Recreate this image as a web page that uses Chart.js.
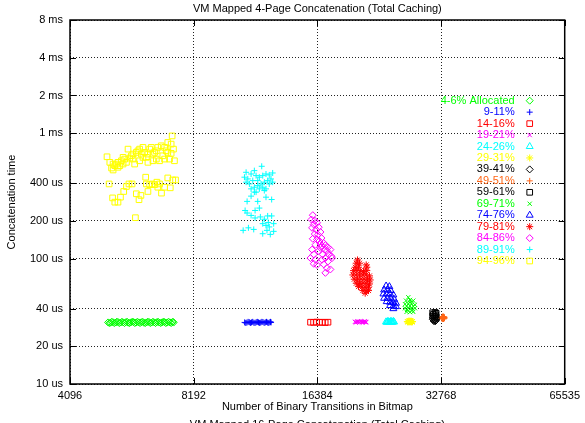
<!DOCTYPE html>
<html>
<head>
<meta charset="utf-8">
<title>VM Mapped 4-Page Concatenation</title>
<script src="https://cdn.jsdelivr.net/npm/chart.js@4.4.1/dist/chart.umd.min.js"></script>
<style>
  body { margin: 0; background: #fff; }
  #wrap { width: 585px; height: 423px; }
</style>
</head>
<body>
<div id="wrap"><canvas id="concat" width="585" height="423"></canvas></div>
<script>
const chartTitle = 'VM Mapped 4-Page Concatenation (Total Caching)';
const nextTitle = 'VM Mapped 16-Page Concatenation (Total Caching)';
const xTitle = 'Number of Binary Transitions in Bitmap';
const yTitle = 'Concatenation time';

const xTicks = [4096, 8192, 16384, 32768, 65535];
const yTicks = [10, 20, 40, 100, 200, 400, 1000, 2000, 4000, 8000];
const yTickLabels = ['10 us', '20 us', '40 us', '100 us', '200 us', '400 us', '1 ms', '2 ms', '4 ms', '8 ms'];

const seriesLabels = ['4-6% Allocated', '9-11%', '14-16%', '19-21%', '24-26%', '29-31%', '39-41%',
  '49-51%', '59-61%', '69-71%', '74-76%', '79-81%', '84-86%', '89-91%', '94-96%'];

// [transitions, time in us]
const alloc05 = [[5070,31.0],[5140,30.8],[5210,31.1],[5290,30.9],[5360,31.2],[5440,30.9],[5520,31.0],[5600,31.1],
  [5680,30.8],[5760,31.0],[5850,31.2],[5930,30.9],[6020,31.0],[6110,31.1],[6200,30.8],[6290,31.0],[6380,31.2],
  [6470,30.9],[6570,31.0],[6660,31.1],[6760,30.9],[6860,31.0],[6960,31.2],[7060,30.9],[7170,31.0],[7270,31.1],[7320,30.9],
  [5105,30.6],[5175,31.4],[5250,30.6],[5325,31.4],[5400,30.6],[5480,31.4],[5560,30.6],[5640,31.4],[5720,30.6],
  [5805,31.4],[5890,30.6],[5975,31.4],[6065,30.6],[6155,31.4],[6245,30.6],[6335,31.4],[6425,30.6],[6520,31.4],
  [6615,30.6],[6710,31.4],[6810,30.6],[6910,31.4],[7010,30.6],[7115,31.4],[7220,30.6],[7295,31.4]];
const alloc10 = [[10900,31.0],[11040,30.9],[11190,31.1],[11330,31.0],[11480,30.8],[11630,31.1],[11780,31.0],
  [11930,30.9],[12080,31.2],[12240,31.0],[12400,30.9],[12560,31.1],[12640,31.0],
  [10970,30.7],[11115,31.3],[11260,30.7],[11405,31.3],[11555,30.7],[11705,31.3],[11855,30.7],[12005,31.3],
  [12160,30.7],[12320,31.3],[12480,30.7],[12600,31.3]];
const alloc15 = [[15770,31.1],[16040,31.0],[16310,31.2],[16580,31.0],[16850,31.1],[17120,30.9],[17390,31.1]];
const alloc20 = [[20220,31.3],[20420,31.2],[20620,31.4],[20830,31.3],[21040,31.2],[21250,31.4],[21460,31.3],[21540,31.2],
  [20320,31.0],[20520,31.6],[20725,31.0],[20935,31.6],[21145,31.0],[21355,31.6],[21500,31.0]];
const alloc25 = [[24070,31.3],[24260,31.4],[24450,31.2],[24640,31.3],[24830,31.4],[25020,31.3],[25190,31.2],
  [24165,31.0],[24355,31.6],[24545,31.0],[24735,31.6],[24925,31.0],[25105,31.6]];
const alloc30 = [[27130,31.5],[27290,31.4],[27450,31.6],[27610,31.5],[27770,31.4],[27930,31.5],
  [27210,31.2],[27370,31.8],[27530,31.2],[27690,31.8],[27850,31.2]];
const alloc40 = [[31350,33.8],[31700,33.6],[31950,33.1],[31300,32.8],[31550,32.4],[31850,32.1],[31450,31.8],[31700,31.6]];
const alloc50 = [[33150,33.9],[32980,33.6],[33320,33.7],[33150,33.3],[33150,34.3]];
const alloc60 = [[31270,37.0],[31700,37.2],[31880,36.6],[31400,35.9],[31800,35.6],[31270,34.8],[31600,34.6],[31900,34.2]];
const alloc70 = [[27275,49.2],[26927,46.2],[27535,46.8],[28046,46.2],[26778,43.3],[27275,43.6],[27782,43.6],
  [28313,42.8],[26778,40.2],[27275,40.2],[27782,40.2],[28313,40.2],[27017,37.6],[27535,37.4],[28046,37.6],
  [27030,41.8],[27530,42.0],[28050,41.6],[27530,44.8],[27100,39.0],[27900,38.8]];
const alloc75 = [[24085,60.5],[24532,59.8],[23818,56.3],[24260,56.3],[24709,55.6],[23726,52.3],[24165,52.3],
  [24627,52.3],[25084,51.3],[23818,48.3],[24260,48.3],[24709,48.3],[25184,47.4],[24165,45.4],[24627,44.9],
  [25084,44.6],[25466,44.1],[24627,42.2],[25084,41.9],[25466,41.4],[25084,39.9]];
const alloc80 = [[20523,97.6],[20375,91.9],[20752,91.9],[20261,85.4],[20637,85.4],[21545,89.1],[21617,85.4],
  [20071,80.2],[20443,80.2],[20834,80.2],[21219,78.8],[21617,80.2],[19992,74.1],[20375,74.1],[20752,74.1],
  [21137,74.1],[21545,74.1],[21945,72.8],[20149,68.5],[20523,68.5],[20903,68.5],[21302,68.5],[21701,68.5],
  [22030,67.6],[20375,63.6],[20752,63.6],[21137,63.6],[21545,63.6],[21945,62.8],[20637,59.8],[21019,59.1],
  [21422,59.1],[21822,59.1],[21137,55.6],[21545,55.0],[21822,55.6],[21422,53.0]];
const alloc85 = [[15970,222],[15853,205],[16148,201],[16057,187],[16356,193],[15907,176],[16266,170],[16512,178],
  [16148,157],[16448,155],[16670,163],[15970,144],[16356,142],[16577,138],[16763,146],[16979,133],[16820,126],
  [17140,128],[17392,123],[17626,118],[17295,115],[17073,118],[16670,122],[16512,115],[16885,108],[17459,108],
  [17726,104.5],[17140,101],[16820,98],[15907,118],[16057,108],[15765,101],[16212,98],[16057,91],[16356,89],
  [17392,95],[16979,90],[17295,84],[17626,82],[17140,77],[17785,101],[16670,131],[16212,129]];
const alloc90 = [[11996,545],[10990,488],[11510,503],[11301,473],[10888,446],[11095,432],[11621,459],[11837,446],
  [12063,459],[12286,473],[12514,465],[12755,482],[12634,432],[12402,419],[12171,407],[11950,394],[11731,382],
  [11510,371],[11301,360],[11195,394],[10990,407],[11409,419],[11731,419],[12063,371],[12286,360],[12514,394],
  [12755,407],[12171,349],[11621,339],[11301,315],[11052,286],[11731,286],[12286,309],[12683,296],[11837,253],
  [11557,242],[10929,242],[11052,231],[11301,221],[11557,211],[11903,215],[12171,206],[12402,219],[12683,219],
  [12063,190],[12286,184],[12514,179],[12826,165],[12354,168],[12063,158],[12585,156],[11470,171],[11133,176],
  [10810,168],[12826,190],[12443,194],[11837,360],[11510,339]];
const alloc95 = [[5040,649],[5120,586],[5170,528],[5215,509],[5265,551],[5315,568],[5360,586],[5415,551],[5465,603],
  [5515,568],[5565,622],[5620,586],[5670,747],[5725,634],[5780,661],[5830,682],[5885,568],[5940,703],[5995,724],
  [6050,747],[6110,682],[6165,642],[6225,703],[6285,642],[6340,586],[6400,747],[6460,771],[6520,682],[6580,703],
  [6645,622],[6700,771],[6765,603],[6830,794],[6890,661],[6960,771],[7025,724],[7085,844],[7155,622],[7220,819],
  [7260,952],[7315,747],[7355,603],[7220,691],[6960,622],[6520,603],[6050,603],[5515,642],[5360,535],[5215,568],
  [5830,622],[6165,771],[6340,682],[6645,724],[7085,703],
  [5100,394],[5200,305],[5265,282],[5360,282],[5435,309],[5535,343],[5620,376],[5700,394],[5800,394],[5940,329],
  [6030,295],[6095,319],[6260,446],[6340,343],[6400,389],[6495,394],[6580,389],[6665,407],[6765,394],[6840,333],
  [6960,371],[7085,440],[7185,367],[7285,424],[7400,424],[6285,394],[6700,371],[5910,212]];

const seriesData = [alloc05, alloc10, alloc15, alloc20, alloc25, alloc30, alloc40, alloc50,
  alloc60, alloc70, alloc75, alloc80, alloc85, alloc90, alloc95];

const seriesColors = ['#00ff00', '#0000ff', '#ff0000', '#ff00ff', '#00ffff', '#ffff00', '#000000',
  '#ff6414', '#000000', '#00ff00', '#0000ff', '#ff0000', '#ff00ff', '#00ffff', '#ffff00'];
const markerCycle = ['rectRot', 'cross', 'rect', 'crossRot', 'triangle', 'star'];
const markerSize = {rectRot: 3.5, cross: 3, rect: 4, crossRot: 3, triangle: 4, star: 3.5};

const FONT_FAMILY = '"Liberation Sans", Arial, Helvetica, sans-serif';

function markerFor(i) {
    return markerCycle[i % markerCycle.length];
}

const gnuplotFrame = {
    id: 'gnuplotFrame',
    afterDraw(chart) {
        const {ctx, chartArea: a, scales} = chart;
        ctx.save();

        // inward tick marks on all four sides
        ctx.strokeStyle = '#000';
        ctx.lineWidth = 1;
        ctx.beginPath();
        xTicks.forEach(v => {
            let x = Math.round(scales.x.getPixelForValue(v)) + 0.5;
            ctx.moveTo(x, a.bottom); ctx.lineTo(x, a.bottom - 6);
            ctx.moveTo(x, a.top); ctx.lineTo(x, a.top + 6);
        });
        yTicks.forEach(v => {
            let y = Math.round(scales.y.getPixelForValue(v)) + 0.5;
            ctx.moveTo(a.left, y); ctx.lineTo(a.left + 6, y);
            ctx.moveTo(a.right, y); ctx.lineTo(a.right - 6, y);
        });
        ctx.stroke();

        ctx.lineWidth = 1.5;
        ctx.strokeRect(a.left, a.top, a.right - a.left, a.bottom - a.top);

        // titles
        let cx = (a.left + a.right) / 2;
        ctx.fillStyle = '#000';
        ctx.font = '11px ' + FONT_FAMILY;
        ctx.textAlign = 'center';
        ctx.textBaseline = 'middle';
        ctx.fillText(chartTitle, cx, a.top - 11);
        ctx.fillText(xTitle, cx, a.bottom + 23);
        ctx.textBaseline = 'top';
        ctx.fillText(nextTitle, cx, a.bottom + 35);

        ctx.save();
        ctx.translate(12, (a.top + a.bottom) / 2);
        ctx.rotate(-Math.PI / 2);
        ctx.textBaseline = 'middle';
        ctx.fillText(yTitle, 0, 0);
        ctx.restore();

        // key, gnuplot style: text right aligned, marker after it
        ctx.textAlign = 'right';
        ctx.textBaseline = 'middle';
        seriesLabels.forEach((label, i) => {
            let y = a.top + 80.7 + i * 11.45;
            ctx.fillStyle = seriesColors[i];
            ctx.fillText(label, a.right - 50, y);
            ctx.strokeStyle = seriesColors[i];
            ctx.fillStyle = 'rgba(0,0,0,0)';
            ctx.lineWidth = 1;
            Chart.helpers.drawPoint(ctx, {
                pointStyle: markerFor(i),
                radius: markerSize[markerFor(i)],
                rotation: 0,
                borderWidth: 1
            }, a.right - 35, y);
        });
        ctx.restore();
    }
};

const datasets = seriesData.map((pts, i) => ({
    label: seriesLabels[i],
    data: pts.map(p => ({x: p[0], y: p[1]})),
    pointStyle: markerFor(i),
    pointRadius: i === 7 ? 3.5 : markerSize[markerFor(i)],
    pointBorderWidth: i === 7 ? 2 : 1,
    borderColor: seriesColors[i],
    backgroundColor: 'rgba(0,0,0,0)',
    showLine: false,
    order: seriesData.length - i
}));

const config = {
    type: 'scatter',
    data: {datasets: datasets},
    options: {
        responsive: false,
        animation: false,
        devicePixelRatio: 1,
        events: [],
        layout: {padding: {top: 20, right: 17, left: 0, bottom: 0}},
        plugins: {legend: {display: false}, tooltip: {enabled: false}, title: {display: false}},
        scales: {
            x: {
                type: 'logarithmic',
                min: 4096,
                max: 65535,
                afterBuildTicks: s => { s.ticks = xTicks.map(v => ({value: v})); },
                afterFit: s => { s.height = 39; },
                ticks: {
                    autoSkip: false,
                    maxRotation: 0,
                    padding: 5,
                    color: '#000',
                    font: {family: FONT_FAMILY, size: 11},
                    callback: v => String(v)
                },
                grid: {color: '#222', lineWidth: 1, drawTicks: false},
                border: {display: false, dash: [1, 2]}
            },
            y: {
                type: 'logarithmic',
                min: 10,
                max: 8000,
                afterBuildTicks: s => { s.ticks = yTicks.map(v => ({value: v})); },
                afterFit: s => { s.width = 70; },
                ticks: {
                    autoSkip: false,
                    padding: 7,
                    color: '#000',
                    font: {family: FONT_FAMILY, size: 11},
                    callback: v => yTickLabels[yTicks.indexOf(v)]
                },
                grid: {color: '#222', lineWidth: 1, drawTicks: false},
                border: {display: false, dash: [1, 2]}
            }
        }
    },
    plugins: [gnuplotFrame]
};

let c = document.getElementById('concat').getContext('2d');
new Chart(c, config);
</script>
</body>
</html>
